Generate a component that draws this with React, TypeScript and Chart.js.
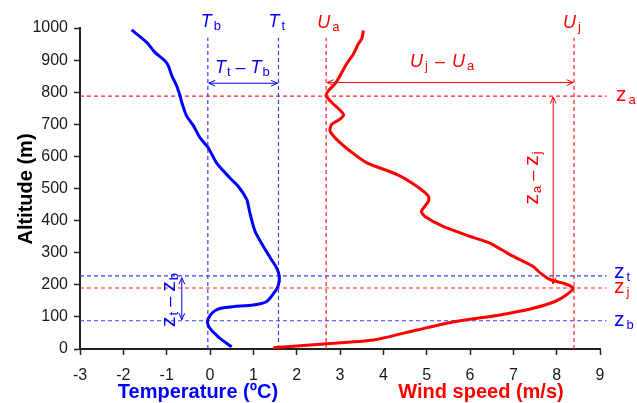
import React, { useEffect, useRef } from 'react';
import { Chart, registerables } from 'chart.js';

Chart.register(...registerables);

// ---- Data ----
const tempAltitude = [7, 33, 64, 85, 104, 118, 127, 132, 137, 148, 179, 200, 226, 252, 278, 320, 367, 424, 450, 466, 507, 533, 580, 627, 658, 695, 726, 768, 788, 820, 851, 882, 898, 924, 955, 994];
const temperature = [0.5, 0.23, 0.0, -0.06, 0.0, 0.1, 0.25, 0.54, 1.0, 1.31, 1.5, 1.58, 1.6, 1.54, 1.42, 1.23, 1.04, 0.92, 0.88, 0.85, 0.65, 0.46, 0.15, -0.04, -0.23, -0.38, -0.54, -0.65, -0.69, -0.77, -0.88, -0.96, -1.04, -1.27, -1.46, -1.81];

const windAltitude = [4, 10, 18, 28, 59, 80, 91, 106, 127, 148, 169, 190, 205, 216, 237, 257, 294, 330, 351, 382, 413, 429, 460, 476, 507, 544, 580, 617, 653, 679, 700, 716, 731, 768, 788, 804, 825, 851, 888, 919, 950, 966, 992];
const windSpeed = [1.46, 2.08, 2.85, 3.77, 4.77, 5.46, 5.92, 6.69, 7.46, 7.96, 8.23, 8.38, 8.15, 7.85, 7.62, 7.46, 6.92, 6.46, 6.0, 5.38, 4.96, 4.88, 5.04, 5.04, 4.77, 4.31, 3.62, 3.23, 2.92, 2.77, 2.81, 3.0, 3.08, 2.81, 2.68, 2.73, 2.88, 3.0, 3.15, 3.31, 3.42, 3.5, 3.54];

// axis ranges / ticks
const X_MIN = -3;
const X_MAX = 9;
const X_STEP = 1;
const Y_MIN = 0;
const Y_MAX = 1000;
const Y_STEP = 100;

// reference values
const T_B = -0.05;
const T_T = 1.58;
const U_A = 2.68;
const U_J = 8.4;
const Z_A = 788;
const Z_T = 228;
const Z_J = 190;
const Z_B = 88;
const V_LINE_TOP = 970;
const H_LINE_RIGHT = 9.15;
const T_ARROW_ALT = 828;
const U_ARROW_ALT = 830;
const ZJ_ARROW_X = 7.92;
const ZB_ARROW_X = -0.65;

// ---- Styles ----
const FONT = '"Liberation Sans", Arial, Helvetica, sans-serif';
const BLUE = '#0000ff';
const RED = '#ff0000';
const DASH_BLUE = '#3a3aff';
const DASH_RED = '#ff2020';
const MAIN = 18;
const SUB = 13;
const ZSIZE = 21;

type Part = { t: string; i?: boolean; sub?: boolean; gap?: number; size?: number };

function fontFor(p: Part) {
  const size = p.size || (p.sub ? SUB : MAIN);
  return `${p.i ? 'italic ' : ''}${size}px ${FONT}`;
}

function richWidth(ctx: CanvasRenderingContext2D, parts: Part[]) {
  let w = 0;
  for (const p of parts) {
    ctx.font = fontFor(p);
    w += (p.gap || 0) + ctx.measureText(p.t).width;
  }
  return w;
}

function drawRich(ctx: CanvasRenderingContext2D, parts: Part[], x: number, y: number, color: string) {
  ctx.fillStyle = color;
  ctx.textBaseline = 'alphabetic';
  ctx.textAlign = 'left';
  let cx = x;
  for (const p of parts) {
    ctx.font = fontFor(p);
    cx += p.gap || 0;
    ctx.fillText(p.t, cx, y + (p.sub ? 3 : 0));
    cx += ctx.measureText(p.t).width;
  }
}

function drawRichRotated(ctx: CanvasRenderingContext2D, parts: Part[], baseX: number, centerY: number, color: string) {
  ctx.save();
  ctx.translate(baseX, centerY);
  ctx.rotate(-Math.PI / 2);
  const w = richWidth(ctx, parts);
  drawRich(ctx, parts, -w / 2, 0, color);
  ctx.restore();
}

function arrowHead(ctx: CanvasRenderingContext2D, x: number, y: number, ang: number) {
  const L = 7;
  const a = 0.42;
  ctx.beginPath();
  ctx.moveTo(x - L * Math.cos(ang - a), y - L * Math.sin(ang - a));
  ctx.lineTo(x, y);
  ctx.lineTo(x - L * Math.cos(ang + a), y - L * Math.sin(ang + a));
  ctx.stroke();
}

function doubleArrow(ctx: CanvasRenderingContext2D, x1: number, y1: number, x2: number, y2: number, color: string) {
  ctx.save();
  ctx.strokeStyle = color;
  ctx.lineWidth = 1;
  ctx.beginPath();
  ctx.moveTo(x1, y1);
  ctx.lineTo(x2, y2);
  ctx.stroke();
  const ang = Math.atan2(y2 - y1, x2 - x1);
  arrowHead(ctx, x2, y2, ang);
  arrowHead(ctx, x1, y1, ang + Math.PI);
  ctx.restore();
}

const zPart = (s: string): Part[] => [{ t: 'z', size: ZSIZE }, { t: s, sub: true, gap: 2 }];

const annotationPlugin = {
  id: 'profileAnnotations',
  afterDatasetsDraw(chart: any) {
    const ctx: CanvasRenderingContext2D = chart.ctx;
    const X = (v: number) => chart.scales.x.getPixelForValue(v);
    const Y = (v: number) => chart.scales.y.getPixelForValue(v);
    ctx.save();
    // arrows
    doubleArrow(ctx, X(T_B) + 1, Y(T_ARROW_ALT), X(T_T) - 1, Y(T_ARROW_ALT), BLUE);
    doubleArrow(ctx, X(U_A) + 1, Y(U_ARROW_ALT), X(U_J) - 1, Y(U_ARROW_ALT), RED);
    doubleArrow(ctx, X(ZJ_ARROW_X), Y(Z_A) + 1, X(ZJ_ARROW_X), Y(Z_J) - 4, RED);
    doubleArrow(ctx, X(ZB_ARROW_X), Y(Z_T) + 2, X(ZB_ARROW_X), Y(Z_B) - 1, BLUE);

    // top labels
    drawRich(ctx, [{ t: 'T', i: true }, { t: 'b', sub: true, gap: 2 }], X(T_B) - 7, 27, BLUE);
    drawRich(ctx, [{ t: 'T', i: true }, { t: 't', sub: true, gap: 2 }], X(T_T) - 10, 27, BLUE);
    drawRich(ctx, [{ t: 'U', i: true }, { t: 'a', sub: true, gap: 2 }], X(U_A) - 9, 28, RED);
    drawRich(ctx, [{ t: 'U', i: true }, { t: 'j', sub: true, gap: 2 }], X(U_J) - 11, 28, RED);

    drawRich(ctx, [{ t: 'T', i: true }, { t: 't', sub: true, gap: 1 }, { t: ' \u2013 ' }, { t: 'T', i: true }, { t: 'b', sub: true, gap: 1 }], 215, 73, BLUE);
    drawRich(ctx, [{ t: 'U', i: true }, { t: 'j', sub: true, gap: 2 }, { t: ' \u2013 ', gap: 2 }, { t: 'U', i: true, gap: 2 }, { t: 'a', sub: true, gap: 2 }], 410, 67, RED);

    // right labels
    const rx = 614;
    drawRich(ctx, zPart('a'), rx + 2, Y(Z_A) + 5, RED);
    drawRich(ctx, zPart('t'), rx, Y(Z_T) + 2, BLUE);
    drawRich(ctx, zPart('j'), rx, Y(Z_J) + 5, RED);
    drawRich(ctx, zPart('b'), rx, Y(Z_B) + 5, BLUE);

    // rotated labels
    drawRichRotated(ctx, [{ t: 'z', size: ZSIZE }, { t: 'a', sub: true, gap: 1 }, { t: ' \u2013 ' }, { t: 'z', size: ZSIZE }, { t: 'j', sub: true, gap: 1 }], 538, 178, RED);
    drawRichRotated(ctx, [{ t: 'z', size: ZSIZE }, { t: 't', sub: true, gap: 1 }, { t: ' \u2013 ' }, { t: 'z', size: ZSIZE }, { t: 'b', sub: true, gap: 1 }], 175, 300, BLUE);
    ctx.restore();
  },
  afterDraw(chart: any) {
    const ctx: CanvasRenderingContext2D = chart.ctx;
    ctx.save();
    ctx.font = `bold 20px ${FONT}`;
    ctx.textAlign = 'center';
    ctx.textBaseline = 'alphabetic';
    ctx.fillStyle = BLUE;
    ctx.fillText('Temperature (\u00baC)', 198, 398);
    ctx.fillStyle = RED;
    ctx.fillText('Wind speed (m/s)', 481, 398);
    ctx.translate(32, 189);
    ctx.rotate(-Math.PI / 2);
    ctx.fillStyle = '#000000';
    ctx.fillText('Altitude (m)', 0, 0);
    ctx.restore();
  },
};

function lineSet(xs: number[], ys: number[], color: string, width: number, dash: number[] = [], clip: any = undefined) {
  return {
    data: xs.map((x, i) => ({ x, y: ys[i] })),
    showLine: true,
    borderColor: color,
    backgroundColor: color,
    borderWidth: width,
    borderDash: dash,
    pointRadius: 0,
    tension: dash.length ? 0 : 0.25,
    fill: false,
    ...(clip !== undefined ? { clip } : {}),
  };
}

export default function App() {
  const ref = useRef<HTMLCanvasElement | null>(null);
  useEffect(() => {
    if (!ref.current) return;
    const dash = [4, 3];
    const datasets: any[] = [
      lineSet(windSpeed, windAltitude, RED, 3),
      lineSet(temperature, tempAltitude, BLUE, 3),
      lineSet([T_B, T_B], [Y_MIN, V_LINE_TOP], DASH_BLUE, 1.2, dash),
      lineSet([T_T, T_T], [Y_MIN, V_LINE_TOP], DASH_BLUE, 1.2, dash),
      lineSet([U_A, U_A], [Y_MIN, V_LINE_TOP], DASH_RED, 1.2, dash),
      lineSet([U_J, U_J], [Y_MIN, V_LINE_TOP], DASH_RED, 1.2, dash),
      lineSet([X_MIN, H_LINE_RIGHT], [Z_A, Z_A], DASH_RED, 1.2, dash, false),
      lineSet([X_MIN, H_LINE_RIGHT], [Z_J, Z_J], DASH_RED, 1.2, dash, false),
      lineSet([X_MIN, H_LINE_RIGHT], [Z_T, Z_T], DASH_BLUE, 1.2, dash, false),
      lineSet([X_MIN, H_LINE_RIGHT], [Z_B, Z_B], DASH_BLUE, 1.2, dash, false),
    ];
    const tickFont = { family: FONT, size: 16 };
    const chart = new Chart(ref.current, {
      type: 'scatter',
      data: { datasets },
      plugins: [annotationPlugin],
      options: {
        responsive: false,
        animation: false,
        layout: { padding: { top: 28, right: 37, left: 0, bottom: 0 } },
        plugins: { legend: { display: false }, tooltip: { enabled: false } },
        scales: {
          x: {
            type: 'linear',
            min: X_MIN,
            max: X_MAX,
            ticks: { stepSize: X_STEP, font: tickFont, color: '#1a1a1a', padding: 11, callback: (v: any) => String(v) },
            grid: { drawOnChartArea: false, drawTicks: true, tickLength: 6, tickColor: '#222', tickWidth: 1.5 },
            border: { color: '#222', width: 2 },
            afterFit: (s: any) => { s.height = 54; },
          },
          y: {
            type: 'linear',
            min: Y_MIN,
            max: Y_MAX,
            ticks: { stepSize: Y_STEP, font: tickFont, color: '#1a1a1a', padding: 6, callback: (v: any) => String(v) },
            grid: { drawOnChartArea: false, drawTicks: true, tickLength: 6, tickColor: '#222', tickWidth: 1.5 },
            border: { color: '#222', width: 2 },
            afterFit: (s: any) => { s.width = 80; },
          },
        },
      } as any,
    });
    return () => chart.destroy();
  }, []);
  return (
    <div style={{ position: 'absolute', left: 0, top: 0, width: 637, height: 403, background: '#fff' }}>
      <canvas ref={ref} width={637} height={403} style={{ display: 'block' }} />
    </div>
  );
}
